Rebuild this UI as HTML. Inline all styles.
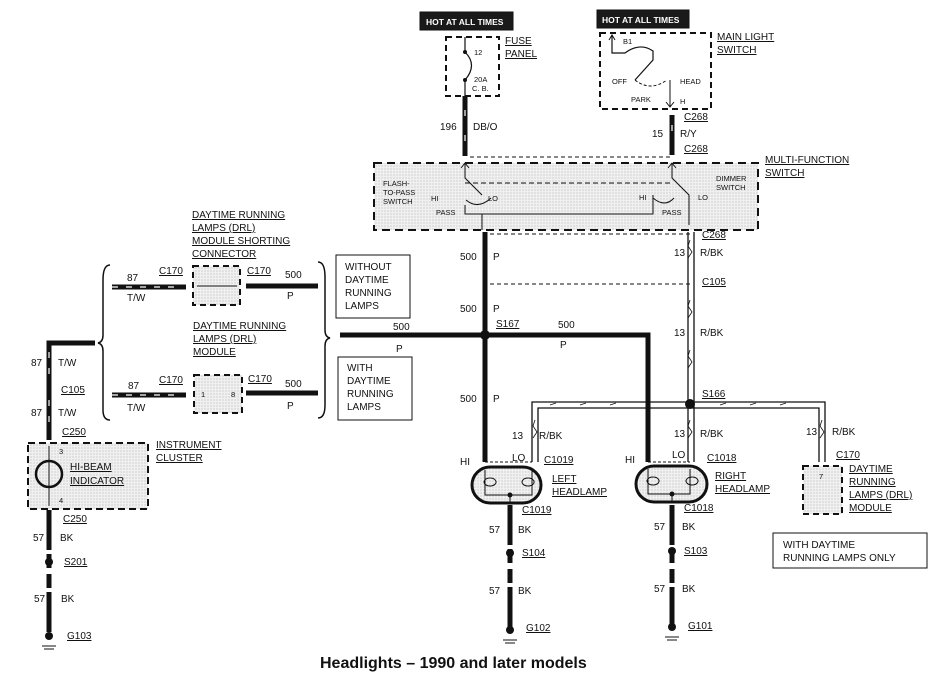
<!DOCTYPE html>
<html><head><meta charset="utf-8"><style>
html,body{margin:0;padding:0;background:#fff}
svg{display:block}
text{font-family:"Liberation Sans",sans-serif;font-size:10px;fill:#111}
.u{text-decoration:underline}
.s{font-size:7.5px}
</style></head><body>
<svg width="952" height="696" viewBox="0 0 952 696" xmlns="http://www.w3.org/2000/svg">
<defs>
<pattern id="dots" width="3" height="3" patternUnits="userSpaceOnUse"><rect width="3" height="3" fill="#f0f0f0"/><circle cx="1" cy="1" r="0.6" fill="#bbb"/></pattern>
</defs>
<g fill="none" stroke="#111">
<rect x="420" y="12" width="93" height="18" fill="#1a1a1a"/>
<rect x="597" y="10" width="92" height="18" fill="#1a1a1a"/>
<rect x="446" y="37" width="53" height="59" stroke-width="2" stroke-dasharray="6,4"/>
<path d="M465 37 V52 Q478 65 465 80 V96" stroke-width="1.2"/>
<rect x="600" y="33" width="111" height="76" stroke-width="2" stroke-dasharray="6,4"/>
<path d="M612 35 V53 H625 Q640 42 653 51 V60 L635 80" stroke-width="1.2"/>
<path d="M635 80 Q650 92 667 80" stroke-width="1" stroke-dasharray="3,2"/>
<path d="M670 80 V107 M666 102 L670 107 L674 102 M609 40 L612 35 L615 40" stroke-width="1"/>
<line x1="465" y1="96" x2="465" y2="156" stroke-width="5"/>
<line x1="672" y1="115" x2="672" y2="155" stroke-width="5"/>
<rect x="374" y="163" width="384" height="67" fill="url(#dots)" stroke-width="2" stroke-dasharray="8,5"/>
<line x1="470" y1="157" x2="672" y2="157" stroke-width="1" stroke-dasharray="4,3"/>
<path d="M465 163 V178 L482 195 M466 200 Q478 210 491 198 M465 205 V214 H653 V195 M653 198 Q665 208 674 198 M672 163 V178 L689 195 V225 M482 214 V230 M461 168 L465 163 L469 168 M668 168 L672 163 L676 168" stroke-width="1"/>
<line x1="465" y1="183" x2="672" y2="183" stroke-width="1" stroke-dasharray="5,3"/>
<line x1="485" y1="232" x2="485" y2="462" stroke-width="5"/>
<line x1="490" y1="234" x2="690" y2="234" stroke-width="1" stroke-dasharray="4,3"/>
<line x1="490" y1="284" x2="690" y2="284" stroke-width="1" stroke-dasharray="4,3"/>
<path d="M340 335 H648 V462" stroke-width="5"/>
<path d="M688 232 V462 M694 232 V462" stroke-width="1.3"/>
<path d="M532 462 V402 H825 V462 M538 462 V408 H819 V462" stroke-width="1.3"/>
<path d="M690 240 l-2 6 l4 6 l-4 6 M690 300 l-2 6 l4 6 l-4 6 M690 350 l-2 6 l4 6 l-4 6 M690 420 l-2 6 l4 6 l-4 6 M535 420 l-2 6 l4 6 l-4 6 M822 420 l-2 6 l4 6 l-4 6 M550 405 l6 -2 M580 405 l6 -2 M610 405 l6 -2 M720 405 l6 -2 M750 405 l6 -2 M780 405 l6 -2" stroke-width="0.8"/>
<rect x="472" y="467" width="69" height="36" rx="18" fill="url(#dots)" stroke-width="3"/>
<rect x="636" y="466" width="71" height="36" rx="18" fill="url(#dots)" stroke-width="3"/>
<path d="M485 470 V495 H532 V470 M510 495 V503 M490 478 a6 4 0 1 0 0.1 0 M528 478 a6 4 0 1 0 0.1 0 M648 469 V494 H690 V469 M672 494 V502 M653 477 a6 4 0 1 0 0.1 0 M692 477 a6 4 0 1 0 0.1 0" stroke-width="1"/>
<path d="M485 462 H532 M648 462 H690" stroke-width="1" stroke-dasharray="3,2"/>
<rect x="803" y="466" width="39" height="48" fill="url(#dots)" stroke-width="2" stroke-dasharray="6,4"/>
<rect x="773" y="533" width="154" height="35" stroke-width="1"/>
<line x1="510" y1="505" x2="510" y2="628" stroke-width="5" stroke-dasharray="40,4,14,6,14,4"/>
<line x1="672" y1="505" x2="672" y2="625" stroke-width="5" stroke-dasharray="40,4,14,6,14,4"/>
<line x1="49" y1="510" x2="49" y2="634" stroke-width="5" stroke-dasharray="40,4,14,6,14,4"/>
<path d="M110 265 Q103 265 103 280 V335 Q103 342 98 343 Q103 344 103 351 V410 Q103 420 110 420" stroke-width="1.5"/>
<path d="M318 262 Q325 262 325 277 V330 Q325 337 330 338 Q325 339 325 346 V405 Q325 418 318 418" stroke-width="1.5"/>
<line x1="112" y1="287" x2="186" y2="287" stroke-width="5"/>
<line x1="112" y1="395" x2="186" y2="395" stroke-width="5"/>
<line x1="246" y1="286" x2="318" y2="286" stroke-width="5"/>
<line x1="246" y1="393" x2="318" y2="393" stroke-width="5"/>
<rect x="193" y="266" width="47" height="39" fill="url(#dots)" stroke-width="2" stroke-dasharray="6,4"/>
<line x1="197" y1="286" x2="237" y2="286" stroke-width="1"/>
<rect x="194" y="375" width="48" height="38" fill="url(#dots)" stroke-width="2" stroke-dasharray="6,4"/>
<rect x="336" y="255" width="74" height="63" stroke-width="1"/>
<rect x="338" y="357" width="74" height="63" stroke-width="1"/>
<path d="M95 343 H49 V440" stroke-width="5"/>
<rect x="28" y="443" width="120" height="66" fill="url(#dots)" stroke-width="2" stroke-dasharray="7,4"/>
<circle cx="49" cy="474" r="13" stroke-width="2.5" fill="none"/>
<line x1="49" y1="446" x2="49" y2="506" stroke-width="1"/>
</g>
<g stroke="#fff" stroke-width="1.2">
<path d="M112 287 h6 M126 287 h6 M140 287 h6 M154 287 h6 M168 287 h6 M112 395 h6 M126 395 h6 M140 395 h6 M154 395 h6 M168 395 h6 M49 352 v6 M49 368 v6 M49 400 v6 M49 416 v6 M465 110 v6 M465 135 v6 M672 125 v6"/>
</g>
<g fill="#111">
<circle cx="485" cy="335" r="5"/><circle cx="690" cy="404" r="5"/>
<circle cx="510" cy="553" r="4"/><circle cx="672" cy="551" r="4"/><circle cx="49" cy="562" r="4"/>
<circle cx="510" cy="630" r="4"/><circle cx="672" cy="627" r="4"/><circle cx="49" cy="636" r="4"/>
<circle cx="465" cy="52" r="2"/><circle cx="465" cy="80" r="2"/>
<circle cx="510" cy="495" r="2.5"/><circle cx="672" cy="494" r="2.5"/>
</g>
<g stroke="#111" stroke-width="1">
<path d="M503 640 h14 M505 643 h10 M665 637 h14 M667 640 h10 M42 646 h14 M44 649 h10"/>
</g>
<text x="426" y="25" style="fill:#fff;font-size:8.5px;font-weight:bold">HOT AT ALL TIMES</text>
<text x="602" y="23" style="fill:#fff;font-size:8.5px;font-weight:bold">HOT AT ALL TIMES</text>
<text class="s" x="474" y="55">12</text><text class="s" x="474" y="82">20A</text><text class="s" x="472" y="91">C. B.</text>
<text class="u" x="505" y="44">FUSE</text><text class="u" x="505" y="57">PANEL</text>
<text class="s" x="623" y="44">B1</text><text class="s" x="612" y="84">OFF</text><text class="s" x="680" y="84">HEAD</text><text class="s" x="631" y="102">PARK</text><text class="s" x="680" y="104">H</text>
<text class="u" x="717" y="40">MAIN LIGHT</text><text class="u" x="717" y="53">SWITCH</text>
<text x="440" y="130">196</text><text x="473" y="130">DB/O</text>
<text class="u" x="684" y="120">C268</text><text x="652" y="137">15</text><text x="680" y="137">R/Y</text><text class="u" x="684" y="152">C268</text>
<text class="u" x="765" y="163">MULTI-FUNCTION</text><text class="u" x="765" y="176">SWITCH</text>
<text class="s" x="383" y="186">FLASH-</text><text class="s" x="383" y="195">TO-PASS</text><text class="s" x="383" y="204">SWITCH</text>
<text class="s" x="431" y="201">HI</text><text class="s" x="488" y="201">LO</text><text class="s" x="436" y="215">PASS</text>
<text class="s" x="716" y="181">DIMMER</text><text class="s" x="716" y="190">SWITCH</text>
<text class="s" x="639" y="200">HI</text><text class="s" x="698" y="200">LO</text><text class="s" x="662" y="215">PASS</text>
<text x="460" y="260">500</text><text x="493" y="260">P</text>
<text x="460" y="312">500</text><text x="493" y="312">P</text>
<text x="460" y="402">500</text><text x="493" y="402">P</text>
<text class="u" x="496" y="327">S167</text>
<text x="558" y="328">500</text><text x="560" y="348">P</text>
<text x="393" y="330">500</text><text x="396" y="352">P</text>
<text class="u" x="702" y="238">C268</text><text x="674" y="256">13</text><text x="700" y="256">R/BK</text>
<text class="u" x="702" y="285">C105</text><text x="674" y="336">13</text><text x="700" y="336">R/BK</text>
<text class="u" x="702" y="397">S166</text>
<text x="512" y="439">13</text><text x="539" y="439">R/BK</text>
<text x="674" y="437">13</text><text x="700" y="437">R/BK</text>
<text x="806" y="435">13</text><text x="832" y="435">R/BK</text>
<text x="460" y="465">HI</text><text x="512" y="461">LO</text><text class="u" x="544" y="463">C1019</text>
<text x="625" y="463">HI</text><text x="672" y="458">LO</text><text class="u" x="707" y="461">C1018</text>
<text class="u" x="552" y="482">LEFT</text><text class="u" x="552" y="495">HEADLAMP</text>
<text class="u" x="715" y="479">RIGHT</text><text class="u" x="715" y="492">HEADLAMP</text>
<text class="u" x="836" y="458">C170</text>
<text class="s" x="819" y="479">7</text>
<text class="u" x="849" y="472">DAYTIME</text><text class="u" x="849" y="485">RUNNING</text><text class="u" x="849" y="498">LAMPS (DRL)</text><text class="u" x="849" y="511">MODULE</text>
<text x="783" y="548">WITH DAYTIME</text><text x="783" y="561">RUNNING LAMPS ONLY</text>
<text class="u" x="522" y="513">C1019</text><text x="489" y="533">57</text><text x="518" y="533">BK</text>
<text class="u" x="522" y="556">S104</text><text x="489" y="594">57</text><text x="518" y="594">BK</text><text class="u" x="526" y="631">G102</text>
<text class="u" x="684" y="511">C1018</text><text x="654" y="530">57</text><text x="682" y="530">BK</text>
<text class="u" x="684" y="554">S103</text><text x="654" y="592">57</text><text x="682" y="592">BK</text><text class="u" x="688" y="629">G101</text>
<text class="u" x="192" y="218">DAYTIME RUNNING</text><text class="u" x="192" y="231">LAMPS (DRL)</text><text class="u" x="192" y="244">MODULE SHORTING</text><text class="u" x="192" y="257">CONNECTOR</text>
<text x="127" y="281">87</text><text class="u" x="159" y="274">C170</text><text x="127" y="301">T/W</text>
<text class="u" x="247" y="274">C170</text><text x="285" y="278">500</text><text x="287" y="299">P</text>
<text x="345" y="270">WITHOUT</text><text x="345" y="283">DAYTIME</text><text x="345" y="296">RUNNING</text><text x="345" y="309">LAMPS</text>
<text class="u" x="193" y="329">DAYTIME RUNNING</text><text class="u" x="193" y="342">LAMPS (DRL)</text><text class="u" x="193" y="355">MODULE</text>
<text x="128" y="389">87</text><text class="u" x="159" y="383">C170</text><text x="127" y="411">T/W</text>
<text class="u" x="248" y="382">C170</text><text x="285" y="387">500</text><text x="287" y="409">P</text>
<text class="s" x="201" y="397">1</text><text class="s" x="231" y="397">8</text>
<text x="347" y="371">WITH</text><text x="347" y="384">DAYTIME</text><text x="347" y="397">RUNNING</text><text x="347" y="410">LAMPS</text>
<text x="31" y="366">87</text><text x="58" y="366">T/W</text><text class="u" x="61" y="393">C105</text>
<text x="31" y="416">87</text><text x="58" y="416">T/W</text><text class="u" x="62" y="435">C250</text>
<text class="u" x="156" y="448">INSTRUMENT</text><text class="u" x="156" y="461">CLUSTER</text>
<text class="s" x="59" y="454">3</text><text class="s" x="59" y="503">4</text>
<text class="u" x="70" y="470">HI-BEAM</text><text class="u" x="70" y="484">INDICATOR</text>
<text class="u" x="63" y="522">C250</text><text x="33" y="541">57</text><text x="60" y="541">BK</text>
<text class="u" x="64" y="565">S201</text><text x="34" y="602">57</text><text x="61" y="602">BK</text><text class="u" x="67" y="639">G103</text>
<text x="320" y="668" style="font-size:16px;font-weight:bold">Headlights – 1990 and later models</text>
</svg>
</body></html>
